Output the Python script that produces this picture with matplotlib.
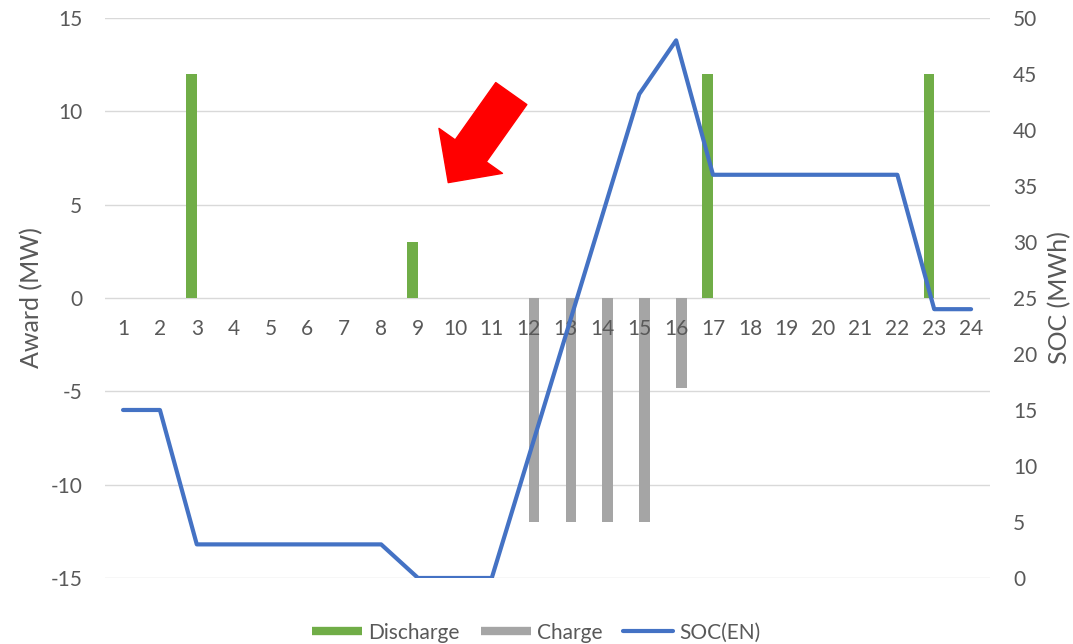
import numpy as np
import matplotlib
matplotlib.use('Agg')
import matplotlib.pyplot as plt
from matplotlib.lines import Line2D

hours = list(range(1, 25))
discharge = [0, 0, 12, 0, 0, 0, 0, 0, 3, 0, 0, 0, 0, 0, 0, 0, 12, 0, 0, 0, 0, 0, 12, 0]
charge = [0, 0, 0, 0, 0, 0, 0, 0, 0, 0, 0, -12, -12, -12, -12, -4.8, 0, 0, 0, 0, 0, 0, 0, 0]
soc = [15, 15, 3, 3, 3, 3, 3, 3, 0, 0, 0, 10.8, 21.6, 32.4, 43.2, 48, 36, 36, 36, 36, 36, 36, 24, 24]

green = '#70AD47'
grey = '#A5A5A5'
blue = '#4472C4'
txt = '#595959'
grid = '#D9D9D9'

plt.rcParams['font.family'] = ['Lato', 'DejaVu Sans']
plt.rcParams['font.size'] = 15
plt.rcParams['axes.unicode_minus'] = False

fig = plt.figure(figsize=(10.73, 6.44), dpi=100)
ax = fig.add_axes([0.0975, 0.1025, 0.8247, 0.8696])
ax2 = ax.twinx()

x = np.array(hours)
w = 0.29
ax.bar(x - w / 2, discharge, width=w, color=green, zorder=3)
ax.bar(x + w / 2, charge, width=w, color=grey, zorder=3)

ax.set_xlim(0.5, 24.5)
ax.set_ylim(-15, 15)
ax.set_yticks(np.arange(-15, 16, 5))
ax.grid(axis='y', color=grid, linewidth=1.0, zorder=0)
ax.set_axisbelow(True)
for s in ax.spines.values():
    s.set_visible(False)
for s in ax2.spines.values():
    s.set_visible(False)
ax.tick_params(axis='x', bottom=False, labelbottom=False, top=False, labeltop=False)
ax.tick_params(axis='y', length=0, pad=16, colors=txt, labelsize=15)
ax.set_ylabel('Award (MW)', color=txt, fontsize=18, labelpad=5)

ax2.plot(x, soc, color=blue, linewidth=3, solid_capstyle='round',
         solid_joinstyle='round', zorder=4)
ax2.set_ylim(0, 50)
ax2.set_yticks(np.arange(0, 51, 5))
ax2.tick_params(axis='y', length=0, pad=17, colors=txt, labelsize=15)
ax2.set_ylabel('SOC (MWh)', color=txt, fontsize=18, labelpad=8)

# hour labels sit on the zero line of the MW axis (25 MWh), above the bars
ax2.set_axisbelow(True)
ax2.xaxis.set_visible(True)
ax2.spines['bottom'].set_position(('data', 25))
ax2.xaxis.set_ticks_position('bottom')
ax2.set_xticks(hours)
ax2.set_xticklabels([str(h) for h in hours])
ax2.tick_params(axis='x', length=0, pad=15, colors=txt, labelsize=15)

# red callout arrow
ax.annotate('', xy=(9.82, 6.18), xytext=(11.53, 10.95),
            arrowprops=dict(arrowstyle='simple,head_length=1.4,head_width=2.8,tail_width=1.37',
                            color='red', shrinkA=0, shrinkB=0, mutation_scale=20),
            zorder=5)

handles = [
    Line2D([], [], color=green, linewidth=6, solid_capstyle='butt'),
    Line2D([], [], color=grey, linewidth=6, solid_capstyle='butt'),
    Line2D([], [], color=blue, linewidth=3, solid_capstyle='round'),
]
leg = fig.legend(handles, ['Discharge', 'Charge', 'SOC(EN)'], loc='lower center',
                 bbox_to_anchor=(0.5, -0.027), ncol=3, frameon=False,
                 handlelength=2.4, handletextpad=0.3, columnspacing=1.0, fontsize=15)
for t in leg.get_texts():
    t.set_color(txt)

fig.savefig('out.png', dpi=100)
